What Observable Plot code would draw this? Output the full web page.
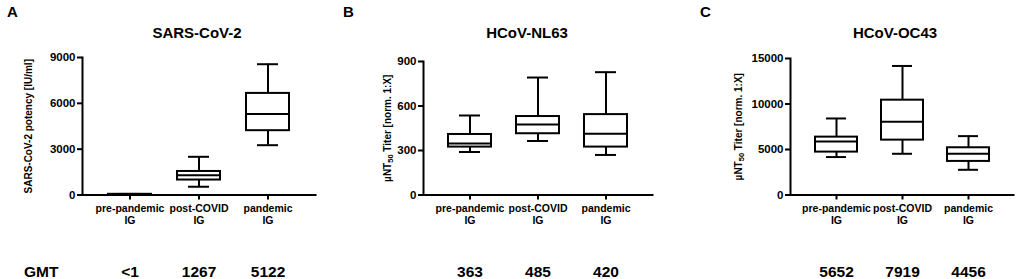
<!DOCTYPE html>
<html>
<head>
<meta charset="utf-8">
<script src="https://cdn.jsdelivr.net/npm/d3@7"></script>
<script src="https://cdn.jsdelivr.net/npm/@observablehq/plot@0.6"></script>
<style>
  html, body { margin: 0; padding: 0; background: white; }
  #root { position: relative; width: 1021px; height: 279px; overflow: hidden; font-family: "Liberation Sans", Arial, sans-serif; font-weight: bold; color: black; }
  .panel { position: absolute; top: 0; }
  .lbl { position: absolute; white-space: nowrap; line-height: 1; }
</style>
</head>
<body>
<div id="root"></div>
<script>
// ---- data ----
const categories = ["pre-pandemic IG", "post-COVID IG", "pandemic IG"];
const categoryLabels = ["pre-pandemic\nIG", "post-COVID\nIG", "pandemic\nIG"];

// Panel A: SARS-CoV-2 potency [IU/ml]
const sarsMin = [5, 540, 3260];
const sarsQ1 = [10, 980, 4210];
const sarsMed = [25, 1300, 5300];
const sarsQ3 = [45, 1540, 6650];
const sarsMax = [70, 2500, 8560];
const sarsTicks = [0, 3000, 6000, 9000];
const sarsGMT = ["<1", "1267", "5122"];

// Panel B: HCoV-NL63 µNT50 titer
const nl63Min = [290, 364, 270];
const nl63Q1 = [323, 413, 323];
const nl63Med = [348, 475, 413];
const nl63Q3 = [408, 529, 542];
const nl63Max = [536, 792, 828];
const nl63Ticks = [0, 300, 600, 900];
const nl63GMT = ["363", "485", "420"];

// Panel C: HCoV-OC43 µNT50 titer
const oc43Min = [4170, 4530, 2770];
const oc43Q1 = [4715, 6030, 3690];
const oc43Med = [5890, 8040, 4530];
const oc43Q3 = [6360, 10420, 5190];
const oc43Max = [8410, 14180, 6470];
const oc43Ticks = [0, 5000, 10000, 15000];
const oc43GMT = ["5652", "7919", "4456"];

const titles = ["SARS-CoV-2", "HCoV-NL63", "HCoV-OC43"];
const letters = ["A", "B", "C"];
const yLabels = ["SARS-CoV-2 potency [IU/ml]", "µNT50 Titer [norm. 1:X]", "µNT50 Titer [norm. 1:X]"];

function panel(cfg) {
  const rows = categories.map((c, i) => ({
    cat: c, min: cfg.min[i], q1: cfg.q1[i], med: cfg.med[i], q3: cfg.q3[i], max: cfg.max[i], gmt: cfg.gmt[i]
  }));
  const lw = 2;
  return Plot.plot({
    width: cfg.width, height: 279,
    marginLeft: cfg.ml, marginRight: cfg.mr, marginTop: cfg.mt, marginBottom: 84.5,
    style: { fontFamily: "'Liberation Sans', Arial, sans-serif", fontWeight: "bold", fontSize: "11px", color: "black", background: "white", overflow: "visible" },
    x: { type: "band", domain: categories, paddingInner: 0.37, paddingOuter: 0.35, axis: null },
    y: { domain: [0, cfg.ticks[cfg.ticks.length - 1]], axis: null },
    marks: [
      Plot.axisY({ ticks: cfg.ticks, tickFormat: d3.format("d"), tickSize: 5, tickPadding: 2, strokeWidth: lw, fontSize: 11.5, fill: "black", label: null }),
      Plot.axisX({ tickSize: 5, tickPadding: 3, strokeWidth: lw, fontSize: 10.5, lineHeight: 1.15, fill: "black",
                   tickFormat: d => categoryLabels[categories.indexOf(d)], label: null }),
      Plot.text([cfg.ylabel], { text: d => d, frameAnchor: "left", textAnchor: "middle", rotate: -90, dx: cfg.ydx, fontSize: 10, fontWeight: "bold", fill: "black" }),
      Plot.ruleX(rows, { x: "cat", y1: "min", y2: "q1", strokeWidth: lw }),
      Plot.ruleX(rows, { x: "cat", y1: "q3", y2: "max", strokeWidth: lw }),
      Plot.tickY(rows, { x: "cat", y: "min", strokeWidth: lw, inset: 11 }),
      Plot.tickY(rows, { x: "cat", y: "max", strokeWidth: lw, inset: 11 }),
      Plot.barY(rows, { x: "cat", y1: "q1", y2: "q3", fill: "white", stroke: "black", strokeWidth: lw, insetLeft: 0, insetRight: 0 }),
      Plot.tickY(rows, { x: "cat", y: "med", strokeWidth: lw }),
      Plot.frame({ anchor: "left", strokeWidth: lw }),
      Plot.frame({ anchor: "bottom", strokeWidth: lw }),
      Plot.text(rows, { x: "cat", text: "gmt", frameAnchor: "bottom", dy: 77, lineAnchor: "middle", fontSize: 15.5, fontWeight: "bold", fill: "black" })
    ]
  });
}

const root = document.getElementById("root");
const cfgs = [
  { left: 0, width: 340, ml: 82, mr: 25, mt: 57, ticks: sarsTicks, min: sarsMin, q1: sarsQ1, med: sarsMed, q3: sarsQ3, max: sarsMax, gmt: sarsGMT, ylabel: yLabels[0], ydx: -53.5 },
  { left: 340, width: 340, ml: 83, mr: 28, mt: 61, ticks: nl63Ticks, min: nl63Min, q1: nl63Q1, med: nl63Med, q3: nl63Q3, max: nl63Max, gmt: nl63GMT, ylabel: yLabels[1], ydx: -35.5 },
  { left: 680, width: 341, ml: 110, mr: 8, mt: 58, ticks: oc43Ticks, min: oc43Min, q1: oc43Q1, med: oc43Med, q3: oc43Q3, max: oc43Max, gmt: oc43GMT, ylabel: yLabels[2], ydx: -52 }
];
cfgs.forEach(cfg => {
  const p = panel(cfg);
  p.classList.add("panel");
  p.style.left = cfg.left + "px";
  root.appendChild(p);
  // render "50" in µNT50 as a subscript
  d3.select(p).selectAll("text").filter(function () { return this.textContent.startsWith("µNT50"); })
    .each(function () {
      const t = d3.select(this);
      const rest = this.textContent.slice(5);
      t.text(null);
      t.append("tspan").text("µNT");
      t.append("tspan").attr("font-size", 7.5).attr("dy", 2).text("50");
      t.append("tspan").attr("dy", -2).text(rest);
    });
});

function addLabel(text, x, yTop, size, center) {
  const d = document.createElement("div");
  d.className = "lbl";
  d.textContent = text;
  d.style.fontSize = size + "px";
  d.style.top = yTop + "px";
  if (center) { d.style.left = x + "px"; d.style.transform = "translateX(-50%)"; }
  else d.style.left = x + "px";
  root.appendChild(d);
}
const titleX = [197, 527, 895];
titles.forEach((t, i) => addLabel(t, titleX[i], 25, 15, true));
const letterX = [7, 343, 700];
letters.forEach((t, i) => addLabel(t, letterX[i], 4, 15, false));
addLabel("GMT", 24, 264, 15.5, false);
</script>
</body>
</html>
